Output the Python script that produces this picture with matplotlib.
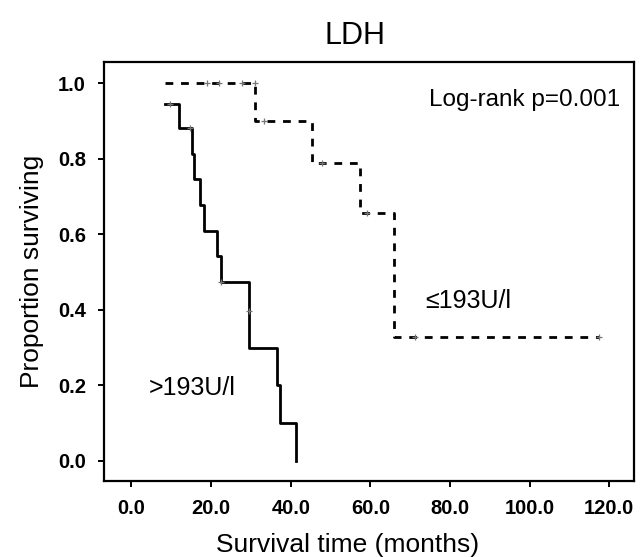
import matplotlib
matplotlib.use("Agg")
import matplotlib.pyplot as plt

plt.rcParams['font.family'] = ['Liberation Sans', 'DejaVu Sans']

# >193U/l group (solid)
high_t = [8.5, 12.0, 15.2, 15.7, 17.3, 18.1, 21.6, 22.6, 29.5, 36.6, 37.2, 41.2]
high_s = [0.944, 0.881, 0.813, 0.746, 0.677, 0.609, 0.543, 0.474, 0.298, 0.201, 0.101, 0.0]
high_cens_t = [9.8, 14.8, 22.6, 29.5]
high_cens_s = [0.944, 0.881, 0.474, 0.397]

# <=193U/l group (dashed)
low_t = [8.5, 31.1, 45.4, 57.3, 65.9, 117.3]
low_s = [1.0, 0.9, 0.7875, 0.656, 0.328, 0.328]
low_cens_t = [19.0, 21.9, 27.8, 31.1, 33.2, 47.9, 59.2, 71.3, 117.3]
low_cens_s = [1.0, 1.0, 1.0, 1.0, 0.9, 0.7875, 0.656, 0.328, 0.328]

xticks = [0, 20, 40, 60, 80, 100, 120]
yticks = [0.0, 0.2, 0.4, 0.6, 0.8, 1.0]

fig = plt.figure(figsize=(6.4, 5.57), dpi=100)
ax = fig.add_axes([104/640, 1-481/557, 530/640, 419/557])

ax.step(high_t, high_s, where='post', color='black', lw=2.0)
ax.step(low_t, low_s, where='post', color='black', lw=2.0, linestyle=(0, (2.8, 2.8)))
ax.plot(high_cens_t, high_cens_s, linestyle='none', marker='+', ms=5, mew=0.9, color='#777777')
ax.plot(low_cens_t, low_cens_s, linestyle='none', marker='+', ms=5, mew=0.9, color='#777777')

ax.set_xlim(-6.9, 126.2)
ax.set_ylim(-0.053, 1.056)
ax.set_xticks(xticks)
ax.set_xticklabels([f"{v:.1f}" for v in xticks])
ax.set_yticks(yticks)
ax.set_yticklabels([f"{v:.1f}" for v in yticks])
for s in ax.spines.values():
    s.set_linewidth(1.6)
ax.tick_params(direction='out', length=4, width=1.4, pad=9, labelsize=14.5)
for lab in ax.get_xticklabels() + ax.get_yticklabels():
    lab.set_fontweight('bold')

ax.set_xlabel('Survival time (months)', fontsize=19)
ax.xaxis.set_label_coords(0.46, -0.125)
ax.set_ylabel('Proportion surviving', fontsize=19, labelpad=10)
ax.set_title('LDH', fontsize=22, x=0.474, pad=13)

ax.text(122.8, 0.939, 'Log-rank p=0.001', fontsize=17.5, ha='right', va='baseline')
ax.text(4.3, 0.175, '>193U/l', fontsize=18, ha='left', va='baseline')
ax.text(73.8, 0.405, '≤193U/l', fontsize=18, ha='left', va='baseline')

fig.savefig('out.png', dpi=100)
